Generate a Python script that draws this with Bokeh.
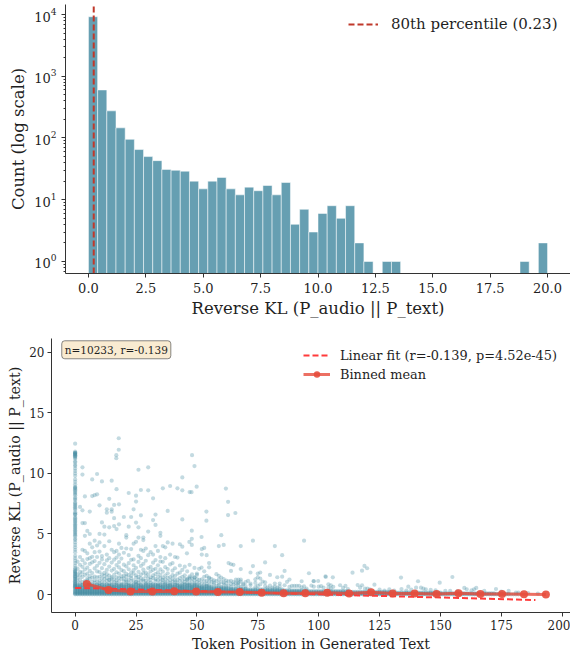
import numpy as np
from bokeh.plotting import figure
from bokeh.layouts import column
from bokeh.models import Legend, LegendItem, Label, FixedTicker, LogTicker
from bokeh.embed import file_html
from bokeh.resources import INLINE

FONT = "DejaVu Serif"
INK = "#1f1f1f"
TEAL = "#4A90A4"

# ---- histogram data
bin_edges = [0.0,0.4,0.8,1.2,1.6,2.0,2.4,2.8,3.2,3.6,4.0,4.4,4.8,5.2,5.6,6.0,6.4,6.8,7.2,7.6,8.0,8.4,8.8,9.2,9.6,10.0,
             10.4,10.8,11.2,11.6,12.0,12.4,12.8,13.2,13.6,14.0,14.4,14.8,15.2,15.6,16.0,16.4,16.8,17.2,17.6,18.0,18.4,18.8,19.2,19.6,20.0]
counts = [9200,600,275,146,95,65,50,43,31,30,29,20,15,20,23,15,12,16,14,17,12,19,4,7,3,6,8,5,8,2,1,0,1,1,0,0,0,0,0,0,0,0,0,0,0,0,0,1,0,2]
percentile_80 = 0.23

# ---- scatter data: the token-position-0 column
column_zero = [0.6,0.7,0.8,0.9,1.0,1.1,1.2,1.3,1.4,1.5,1.6,1.7,1.8,1.9,2.0,2.1,2.2,2.4,2.6,2.8,3.0,3.2,3.5,3.7,3.9,4.1,4.3,4.5,4.6,4.8,
               4.9,5.1,5.2,5.3,5.5,5.6,5.7,5.9,6.0,6.1,6.3,6.4,6.6,6.7,6.8,7.0,7.1,7.2,7.4,7.5,7.6,7.8,7.9,8.0,8.2,8.3,8.4,8.5,8.7,8.8,8.9,
               9.1,9.3,9.5,9.8,10.0,10.2,10.4,10.6,10.7,10.9,11.0,11.2,11.3,11.4,11.5,11.5,11.6,11.6,11.7,11.7,11.8,12.45,
               0.7,0.9,1.1,1.3,1.5,1.7,1.9,5.0,5.4,5.8,6.2,6.6,7.3,8.6,8.8,11.4,11.6,11.7]

# ---- scatter data: isolated points read one by one
sparse_points = [
 (17.9,12.9),(17.9,11.95),(16.9,11.5),(16.9,11.25),(3,10.5),(3,9.9),(7,9.5),(9,9.95),(11,9.34),(15,9.4),(17,8.7),(26,10.3),(30,10.5),
 (48,11.5),(49,10.6),(44,9.67),(36,8.77),(39,8.96),(42,8.77),(44,8.6),(47,8.46),(47.8,8.45),(49.9,8.9),(61.9,8.75),(62.8,7.65),(62.8,6.56),(65.8,6.73),
 (27,8.63),(30,8.6),(25,8.16),(25,7.67),(22,8.38),(32,7.94),(4,8.1),(7,8.13),(8,8.2),(9,8.27),(14,7.9),(10,7.36),(16,7.4),(18,7.45),(2,7.23),(3,6.95),(6,6.85),
 (13,7.03),(13,6.76),(15,7.03),(15,6.84),(24,7.03),(27,6.54),(33,6.6),(38,6.9),(20,6.4),(16,6.3),(32,6.15),(44,6.2),(11,5.95),(25,5.94),(53.9,6.85),(53.9,6.1),
 (12,5.6),(14,5.55),(16,5.65),(18,5.8),(3,5.9),(4,5.9),(23,6.4),(26,5.55),(22,5.6),(33,5.75),(17,5.4),(5,5.25),(6,5.0),(4,4.85),(10,5.0),(12,4.95),(21,4.9),(21,4.7),
 (26,4.7),(28,4.7),(30,5.2),(35,5.1),(35,4.85),(47.9,5.27),(47.9,4.6),(46.9,4.34),(47.9,4.1),(51.9,4.75),(60,4.9),(45.9,3.4),(52,3.75),(53,3.85),(59,4.0),(61,4.1),
 (68,4.0),(73,4.45),(82,4.0),(94,4.45),(52,3.3),(54,3.25),(85,3.25),(55,2.6),(55,2.25),(63,2.6),(64,2.5),(65,2.45),(78,2.65),(73,2.35),(68,2.1),(64,1.95),(86,1.95),
 (8,4.45),(10,4.3),(14,4.4),(18,4.2),(24,4.2),(25,4.35),(28,4.5),(33,4.0),(36,4.0),(38,4.3),(40,4.2),(43,4.15),(44,3.95),(6,4.2),(7,3.9),(9,4.05),(12,4.0),(15,3.7),(17,3.6),
 (19,3.85),(21,3.8),(23,3.75),(27,3.7),(29,3.8),(31,3.5),(34,3.6),(37,3.9),(39,3.3),(41,3.1),(3,3.7),(4,3.6),(5,3.4),(8,3.5),(10,3.55),(13,3.3),(16,3.5),(18,3.3),(20,3.45),
 (22,3.25),(26,3.2),(28,3.6),(30,3.25),(32,3.3),(35,3.1),(37,3.0),(42,3.05),(2,3.1),(6,3.0),(9,3.1),(11,2.9),(14,3.0),(17,3.05),(24,2.9),(27,3.0),(33,2.85),(36,2.7),(40,2.6),
 (43,2.4),(45,2.3),(47,2.45),(49,2.2),(50.9,2.12),(53,1.92),(51.9,2.23),(50,1.73),(49,1.4),(54,1.54),(55,1.4),(56,1.27),(47,1.4),(46,1.27),(58,1.68),(59,1.54),(60,1.4),(61,1.27),
 (72,1.82),(75,1.73),(76,1.82),(75,1.43),(76,1.32),(77,1.07),(80,1.62),(83,1.43),(85,1.48),(88,1.24),(87,1.05),(84,0.91),(93,1.1),(98,1.1),(96,1.76),(89,0.71),(90,0.71),(91,0.71),
 (64,1.13),(66,1.24),(67,1.24),(68,1.24),(67,1.0),(71,1.13),(74,1.26),(72,0.91),(75,0.71),(79,0.58),(81,0.58),(83,0.58),
 (113.9,1.81),(117.8,1.97),(118.8,2.36),(119.9,2.17),(102.8,1.51),(102.9,1.45),(105.8,1.42),(97.9,1.12),(99.8,1.12),(133.8,1.4),(140.8,1.1),(108.8,0.77),(116,0.79),(117.8,0.77),
 (122.9,0.82),(136.8,0.65),(104,0.85),(105,0.77),(104,0.57),(105,0.49),(98,0.65),(100,0.65),(102,0.57),(117,0.57),(119,0.49),(120,0.49),(121,0.44),(140,0.57),(142,0.57),(143,0.49),
 (144,0.44),(146,0.38),(127,0.33),(131,0.33),(136,0.33),(149.7,0.98),(154.9,1.45),(159.8,0.55),(160.8,0.44),(162.8,0.35),(163.8,0.44),(164.7,0.55),(172.8,0.46),(152,0.3),(154,0.3),
 (178,0.3),(181,0.16),(182,0.16),(93,0.6),(95,0.5),(110,0.55),(112,0.45),(125,0.4),(129,0.42),(134,0.45),(138,0.4),(148,0.35),(157,0.28),(168,0.3),(175,0.25),(186,0.12),(190,0.08),
]

# ---- scatter data: populated columns between 0.5 and 3, by token position
crowded_columns = {
 1:[0.73,1.08,1.37,1.66,2.14,2.71], 2:[0.62,0.94,1.23,1.58,1.87,2.46], 3:[0.81,1.02,1.46,1.83,2.29,2.84], 4:[0.67,0.98,1.12,1.63,2.07,2.58],
 5:[0.86,1.17,1.34,1.72,2.23,2.93], 6:[0.74,0.91,1.28,1.52,1.96,2.53], 7:[0.69,1.04,1.41,1.77,2.66,3.12], 8:[0.61,0.97,1.19,1.49,2.16,2.77],
 9:[0.83,1.09,1.43,1.91,2.38], 10:[0.72,0.93,1.14,1.47,1.86,2.62], 11:[0.78,1.03,1.32,1.64,2.18,3.17], 12:[0.66,0.99,1.27,1.54,1.79,2.51],
 13:[0.84,1.13,1.39,1.68,2.03,2.82], 14:[0.71,0.92,1.21,1.57,2.31,1.22], 15:[0.77,1.06,1.33,1.44,1.98,2.64], 16:[0.63,1.01,1.26,1.62,2.12,2.88],
 17:[0.82,0.96,1.16,1.42,1.84,2.43], 18:[0.68,1.11,1.38,1.73,2.24,2.68], 19:[0.79,0.89,1.29,1.51,2.02,2.97], 20:[0.64,1.07,1.31,1.56,1.93,2.47],
 21:[0.85,1.04,1.18,1.48,1.71,2.33], 22:[0.75,0.95,1.24,1.61,2.09,2.59], 23:[0.7,1.12,1.36,1.53,1.82,2.87], 24:[0.6,0.88,1.17,1.74,2.01,2.42],
 25:[0.87,1.02,1.4,1.59,2.21,1.05], 26:[0.73,0.97,1.23,1.46,1.88,2.69], 27:[0.78,1.08,1.35,1.65,2.36], 28:[0.62,1.13,1.27,1.78,2.06,2.54],
 29:[0.84,0.93,1.13,1.52,1.81,2.79], 30:[0.69,1.03,1.34,1.67,2.19], 31:[0.76,0.99,1.22,1.43,1.92,2.28], 32:[0.61,0.91,1.37,1.58,2.04,2.63],
 33:[0.83,1.14,1.28,1.69,2.13], 34:[0.72,0.87,1.18,1.47,1.83,2.41], 35:[0.77,1.06,1.33,1.63,2.08,2.73], 36:[0.66,1.01,1.21,1.39,1.89],
 37:[0.86,0.98,1.26,1.57,2.26], 38:[0.71,1.09,1.38,1.76,2.11], 39:[0.79,0.92,1.16,1.44,2.49], 40:[0.63,1.07,1.32,1.61,1.97],
 41:[0.82,1.02,1.19,1.53,2.17], 42:[0.74,0.96,1.24,1.72], 43:[0.68,1.12,1.36,1.81], 44:[0.6,0.89,1.14,1.46,2.03], 45:[0.85,1.04,1.29,1.59],
 46:[0.73,0.97,1.23,1.92], 47:[0.78,0.94,1.27,1.51], 48:[0.64,1.08,1.33,1.67], 49:[0.81,0.91,1.17,1.43], 50:[0.69,1.03,1.28,1.62],
 51:[0.76,0.99,1.22], 52:[0.62,0.93,1.26], 53:[0.83,1.11,1.47], 54:[0.72,0.88,1.13], 55:[0.77,1.06,1.34], 56:[0.66,1.01], 57:[0.84,0.98,1.18],
 58:[0.71,1.12], 59:[0.79,0.92,1.24], 60:[0.63,1.04], 61:[0.82,0.97], 62:[0.68,0.94,1.16], 63:[0.74,1.09], 64:[0.61,0.87], 65:[0.83,1.02],
 66:[0.72,0.99], 67:[0.77,0.93], 68:[0.64,1.07], 69:[0.81,0.89], 70:[0.69,1.03], 72:[0.76], 74:[0.62,0.96], 76:[0.84], 78:[0.71,1.01], 80:[0.73],
 82:[0.66,0.91], 84:[0.68], 86:[0.77], 88:[0.63], 92:[0.72], 94:[0.67], 97:[0.74], 101:[0.69], 106:[0.64], 111:[0.71],
}

# ---- scatter data: the solid band near zero: (level, last token position it reaches)
band_rows = [(0.02,182),(0.06,178),(0.11,172),(0.16,150),(0.22,130),(0.28,112),(0.35,95),(0.42,85),(0.5,70),(0.58,62),(0.68,55),(0.8,50)]

# ---- trend data
fit_x = [0, 189]
fit_y = [0.55, -0.45]
fit_label = "Linear fit (r=-0.139, p=4.52e-45)"
bin_x = [4.8,13.7,22.7,31.7,40.7,49.7,58.6,67.6,76.6,85.6,94.5,103.5,112.5,121.5,130.4,139.4,148.4,157.4,166.4,175.3,184.3,193.3]
bin_y = [0.88,0.38,0.25,0.25,0.27,0.25,0.22,0.22,0.16,0.11,0.11,0.14,0.08,0.19,0.08,0.08,0.05,0.11,0.05,0.05,0.03,0.0]

# ---- top panel
Y_FLOOR = 0.639
Y_TOP = 14520
top = figure(width=570, height=327, output_backend="svg", toolbar_location=None, y_axis_type="log",
             x_range=(-1.0, 21.0), y_range=(Y_FLOOR, Y_TOP), frame_align=False,
             min_border_left=65, min_border_right=0, min_border_top=4, min_border_bottom=54)
keep = [i for i, c in enumerate(counts) if c > 0]
top.quad(left=[bin_edges[i] for i in keep], right=[bin_edges[i+1] for i in keep],
         bottom=Y_FLOOR, top=[counts[i] for i in keep],
         fill_color="#669FB2", line_color="#ffffff", line_alpha=0.5, line_width=1)
pline = top.line([percentile_80, percentile_80], [Y_FLOOR, Y_TOP], line_color="#C0392B", line_width=2, line_dash="6 3")
top.xaxis.ticker = FixedTicker(ticks=[0, 2.5, 5, 7.5, 10, 12.5, 15, 17.5, 20])
top.xaxis.major_label_overrides = {0:"0.0",2.5:"2.5",5:"5.0",7.5:"7.5",10:"10.0",12.5:"12.5",15:"15.0",17.5:"17.5",20:"20.0"}
top.xaxis.axis_label = "Reverse KL (P_audio || P_text)"
top.yaxis.axis_label = "Count (log scale)"
top.yaxis.ticker = LogTicker(num_minor_ticks=10)
leg1 = Legend(items=[LegendItem(label="80th percentile (0.23)", renderers=[pline])], location=(283, 239),
              margin=0, padding=0, glyph_width=30, glyph_height=20, label_standoff=13,
              background_fill_alpha=0, border_line_alpha=0,
              label_text_font=FONT, label_text_font_size="15px", label_text_color=INK)
top.add_layout(leg1)

# ---- bottom panel
bot = figure(width=570, height=329, output_backend="svg", toolbar_location=None,
             x_range=(-9.71, 203.4), y_range=(-1.48, 21.13), frame_align=False,
             min_border_left=51, min_border_right=0, min_border_top=11, min_border_bottom=44)
sx = [0.0]*len(column_zero) + [p[0] for p in sparse_points]
sy = list(column_zero) + [p[1] for p in sparse_points]
for pos, vals in crowded_columns.items():
    sx += [pos]*len(vals)
    sy += vals
for level, last in band_rows:
    xs = np.arange(0, last + 1)
    sx += xs.tolist()
    sy += [level]*len(xs)
bot.scatter(sx, sy, size=4.2, fill_color=TEAL, fill_alpha=0.33, line_color=None)
fit = bot.line(fit_x, fit_y, line_color="#FF3B3B", line_width=2, line_dash="6 3")
bl = bot.line(bin_x, bin_y, line_color="#E74C3C", line_width=3, line_alpha=0.8)
bm = bot.scatter(bin_x, bin_y, size=8, fill_color="#E74C3C", fill_alpha=0.9, line_color=None)
bot.xaxis.ticker = FixedTicker(ticks=[0,25,50,75,100,125,150,175,200])
bot.yaxis.ticker = FixedTicker(ticks=[0,5,10,15,20])
bot.xaxis.axis_label = "Token Position in Generated Text"
bot.yaxis.axis_label = "Reverse KL (P_audio || P_text)"
leg2 = Legend(items=[LegendItem(label=fit_label, renderers=[fit]), LegendItem(label="Binned mean", renderers=[bl, bm])],
              location=(252, 230), margin=0, padding=0, glyph_width=27, glyph_height=16, label_standoff=10, spacing=3,
              background_fill_alpha=0, border_line_alpha=0,
              label_text_font=FONT, label_text_font_size="12.9px", label_text_color=INK)
bot.add_layout(leg2)
bot.add_layout(Label(x=-5.5, y=20.2, text="n=10233, r=-0.139", text_font=FONT, text_font_size="10.5px", text_color=INK,
                     text_baseline="middle", background_fill_color="#F5DEB3", background_fill_alpha=0.6,
                     border_line_color="#555555", border_line_alpha=0.7, border_line_width=1, padding=3, border_radius=3))

for p, tick, lab in ((top, "13px", "16.5px"), (bot, "12px", "14.2px")):
    p.outline_line_color = None
    p.grid.visible = False
    for ax in (p.xaxis[0], p.yaxis[0]):
        ax.axis_line_color = "#333333"
        ax.major_tick_line_color = "#333333"
        ax.minor_tick_line_color = "#333333"
        ax.major_tick_in = 0
        ax.major_tick_out = 4
        ax.minor_tick_in = 0
        ax.minor_tick_out = 2
        ax.major_label_text_font = FONT
        ax.major_label_text_font_size = tick
        ax.major_label_text_color = INK
        ax.axis_label_text_font = FONT
        ax.axis_label_text_font_size = lab
        ax.axis_label_text_font_style = "normal"
        ax.axis_label_text_color = INK
bot.xaxis.minor_tick_line_color = None
bot.yaxis.minor_tick_line_color = None
top.xaxis.minor_tick_line_color = None
top.xaxis.axis_label_standoff = 3
top.yaxis.axis_label_standoff = 3
bot.xaxis[0].major_label_standoff = 3
bot.xaxis[0].axis_label_standoff = 3
bot.yaxis[0].major_label_standoff = 3
bot.yaxis[0].axis_label_standoff = 3

page = column(top, bot, spacing=0)
open("out.html", "w").write(file_html(page, INLINE))
